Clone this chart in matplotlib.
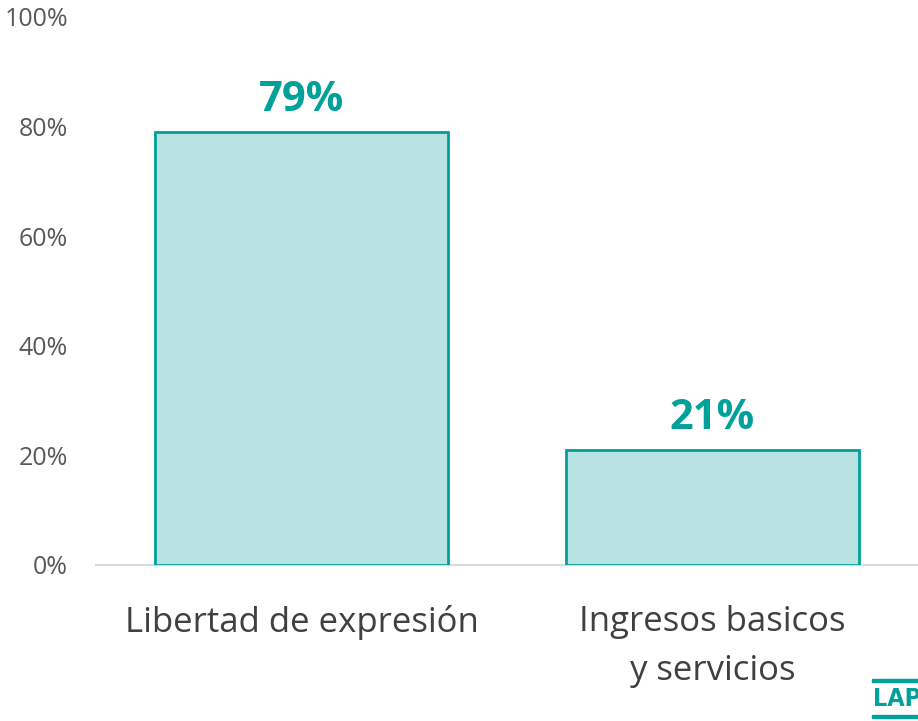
import matplotlib
matplotlib.use("Agg")
import matplotlib.pyplot as plt
from matplotlib.patches import Rectangle

categories = ["Libertad de expresión", "Ingresos basicos\ny servicios"]
values = [79, 21]
yticks = [0, 20, 40, 60, 80, 100]
ytick_labels = ["0%", "20%", "40%", "60%", "80%", "100%"]

plt.rcParams['font.family'] = ['Open Sans', 'DejaVu Sans']

fig = plt.figure(figsize=(9.18, 7.21), dpi=100)
ax = fig.add_axes([96/918, 1 - 565/721, 822/918, (565 - 17)/721])

x = list(range(len(categories)))
ax.bar(x, values, width=0.715, color="#B9E3E2", edgecolor="#00A19A", linewidth=2, zorder=3)
for xi, v in zip(x, values):
    ax.text(xi, v + 2.0, f"{v}%", ha="center", va="bottom", fontsize=30,
            fontweight="bold", color="#00A19A")

ax.set_xlim(-0.5, 1.5)
ax.set_ylim(0, 100)
ax.set_yticks(yticks)
ax.set_yticklabels(ytick_labels, fontsize=18, color="#595959")
ax.set_xticks(x)
ax.set_xticklabels(categories, fontsize=25, color="#404040", linespacing=1.55)
ax.tick_params(axis="y", length=0, pad=20)
ax.tick_params(axis="x", length=0, pad=29)
for side in ["top", "right", "left"]:
    ax.spines[side].set_visible(False)
ax.spines["bottom"].set_color("#D9D9D9")
ax.spines["bottom"].set_linewidth(1.5)

# LAPOP logo
fig.text(873/918, 1 - 699/721, "LAPOP", fontsize=18, fontweight="bold",
         color="#00A19A", ha="left", va="center",
         family=["DejaVu Sans"], fontstretch="condensed")
fig.add_artist(Rectangle((872/918, 1 - 682/721), 0.1, 3/721, transform=fig.transFigure,
                         color="#00A19A"))
fig.add_artist(Rectangle((872/918, 1 - 718/721), 0.1, 3/721, transform=fig.transFigure,
                         color="#00A19A"))

fig.savefig("out.png", dpi=100)
